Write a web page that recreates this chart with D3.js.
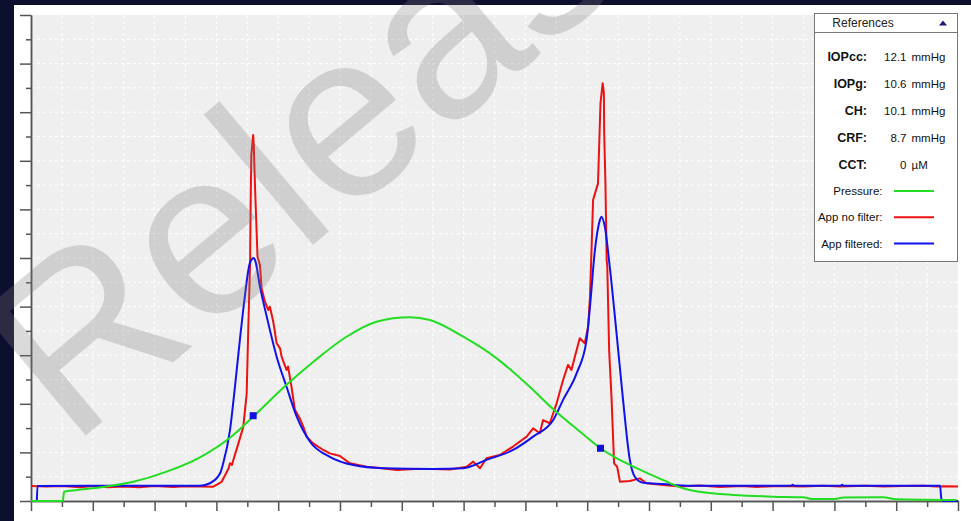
<!DOCTYPE html>
<html>
<head>
<meta charset="utf-8">
<script src="https://cdn.jsdelivr.net/npm/d3@7/dist/d3.min.js"></script>
<style>
  body { margin: 0; background: #0d0f2e; }
  svg { display: block; font-family: "Liberation Sans", Arial, sans-serif; }
</style>
</head>
<body>
<svg id="chart" width="971" height="521"></svg>
<script>
// Кривые прибора (время 0..30, амплитуда 0..20 в клетках сетки)
const pressure = [
  [0, 0], [1.03, 0], [1.07, 0.38], [1.7, 0.48], [2.23, 0.56], [3.31, 0.79], [4.39, 1.21],
  [5.47, 1.8], [6.55, 2.72], [7.19, 3.47], [8.27, 4.78], [9.13, 5.72], [10.21, 6.76],
  [11.18, 7.38], [12.26, 7.56], [12.91, 7.45], [13.99, 6.76], [15.07, 5.87], [16.14, 4.7],
  [16.95, 3.72], [17.76, 2.86], [18.43, 2.17], [18.95, 1.76], [19.6, 1.35], [20.46, 0.86],
  [21.21, 0.48], [21.64, 0.38], [22.72, 0.25], [24.02, 0.18], [24.99, 0.15], [25.3, 0.08],
  [26.0, 0.08], [26.3, 0.14], [27.57, 0.15], [28.0, 0.07], [29.95, 0.04]
];

const appNoFilter = [
  [0, 0.62], [0.5, 0.6], [1.0, 0.62], [1.6, 0.57], [2.0, 0.62], [2.5, 0.57], [3.0, 0.6],
  [3.5, 0.57], [4.0, 0.62], [4.6, 0.58], [5.0, 0.61], [5.5, 0.6], [5.9, 0.59], [6.17, 0.79],
  [6.39, 1.33], [6.44, 1.55], [6.5, 1.48], [6.71, 2.36], [6.87, 3.05], [6.98, 4.42],
  [7.03, 7.04], [7.09, 9.78], [7.11, 12.39], [7.13, 14.24], [7.19, 15.06], [7.21, 14.65],
  [7.25, 12.92], [7.3, 11.15], [7.33, 10.05], [7.41, 9.71], [7.46, 8.77], [7.57, 8.2],
  [7.68, 7.86], [7.73, 8.0], [7.84, 7.38], [7.95, 6.49], [8.06, 6.28], [8.11, 5.94],
  [8.27, 5.39], [8.32, 5.53], [8.43, 4.7], [8.54, 3.75], [8.7, 3.4], [8.81, 3.06],
  [8.92, 2.65], [9.13, 2.37], [9.46, 2.1], [9.67, 1.96], [10.0, 1.85], [10.32, 1.55],
  [10.86, 1.41], [11.29, 1.36], [11.83, 1.28], [12.42, 1.32], [13.02, 1.32], [13.56, 1.3],
  [14.1, 1.41], [14.31, 1.62], [14.53, 1.35], [14.74, 1.76], [15.17, 1.89], [15.6, 2.24],
  [16.04, 2.65], [16.25, 2.99], [16.47, 2.79], [16.57, 3.33], [16.79, 3.2], [17.01, 4.02],
  [17.22, 4.98], [17.38, 5.6], [17.49, 5.39], [17.6, 5.94], [17.76, 6.7], [17.92, 6.49],
  [18.03, 7.17], [18.09, 8.41], [18.14, 10.33], [18.19, 12.39], [18.35, 13.07],
  [18.39, 14.72], [18.43, 16.37], [18.5, 17.19], [18.54, 16.78], [18.55, 15.13],
  [18.59, 13.07], [18.63, 9.92], [18.65, 9.64], [18.71, 6.21], [18.79, 4.16], [18.87, 1.55],
  [18.97, 1.41], [19.06, 0.79], [19.38, 0.82], [19.7, 0.93], [19.92, 0.73], [20.46, 0.66],
  [21.0, 0.6], [21.64, 0.64], [22.3, 0.58], [23.0, 0.62], [23.5, 0.58], [24.2, 0.62],
  [25.0, 0.6], [25.6, 0.63], [26.2, 0.6], [27.0, 0.63], [27.6, 0.6], [28.2, 0.62],
  [28.9, 0.63], [29.3, 0.6], [29.6, 0.61], [30, 0.6]
];

const appFiltered = [
  [0.19, 0], [0.21, 0.62], [2.0, 0.63], [5.47, 0.63], [5.79, 0.73], [6.12, 1.14],
  [6.22, 1.55], [6.44, 2.92], [6.6, 4.7], [6.76, 6.63], [6.92, 8.41], [7.08, 9.78],
  [7.21, 10.0], [7.25, 9.92], [7.41, 8.82], [7.63, 7.58], [7.95, 5.94], [8.27, 4.7],
  [8.6, 3.47], [9.03, 2.44], [9.67, 1.82], [10.43, 1.48], [11.4, 1.35], [13.02, 1.32],
  [13.99, 1.35], [14.74, 1.69], [15.6, 2.1], [16.25, 2.65], [16.9, 3.33], [17.22, 4.16],
  [17.66, 5.26], [17.98, 6.63], [18.09, 8.0], [18.25, 10.33], [18.41, 11.56], [18.46, 11.7],
  [18.57, 11.29], [18.73, 9.64], [18.95, 6.9], [19.16, 4.16], [19.38, 1.69], [19.54, 1.0],
  [19.81, 0.75], [20.46, 0.7], [21.32, 0.63], [24.6, 0.63], [24.65, 0.67], [24.7, 0.63],
  [26.2, 0.63], [26.25, 0.67], [26.3, 0.63], [29.42, 0.63], [29.46, 0.1], [29.5, 0], [30, 0]
];

// Точки апланации на кривой давления
const markers = [[7.19, 3.51], [18.43, 2.17]];

// Таблица справа
const refLabels = ["IOPcc:", "IOPg:", "CH:", "CRF:", "CCT:"];
const refValues = ["12.1", "10.6", "10.1", "8.7", "0"];
const refUnits  = ["mmHg", "mmHg", "mmHg", "mmHg", "µM"];
const seriesNames  = ["Pressure:", "App no filter:", "App filtered:"];
const seriesColors = ["#22dd22", "#ee1111", "#1111ee"];

const svg = d3.select("#chart");

// Белая панель и серое поле графика
svg.append("rect").attr("x", 14).attr("y", 5).attr("width", 957).attr("height", 516).attr("fill", "#ffffff");

const xScale = d3.scaleLinear().domain([0, 30]).range([31, 958]);
const yScale = d3.scaleLinear().domain([0, 20]).range([501, 15]);

svg.append("rect")
    .attr("x", xScale(0)).attr("y", yScale(20))
    .attr("width", xScale(30) - xScale(0)).attr("height", yScale(0) - yScale(20))
    .attr("fill", "#efefef");

// Пунктирная сетка
const grid = svg.append("g").attr("stroke", "#ffffff").attr("stroke-width", 1).attr("stroke-dasharray", "3,3");
grid.selectAll(".gx").data(d3.range(1, 30)).enter().append("line")
    .attr("x1", d => xScale(d)).attr("x2", d => xScale(d))
    .attr("y1", yScale(20)).attr("y2", yScale(0));
grid.selectAll(".gy").data(d3.range(1, 20)).enter().append("line")
    .attr("x1", xScale(0)).attr("x2", xScale(30))
    .attr("y1", d => yScale(d)).attr("y2", d => yScale(d));

// Оси: длинные и короткие засечки
function styleAxis(g) {
    g.selectAll("text").remove();
    g.selectAll("line").attr("stroke", "#555").attr("stroke-width", 1.5);
    g.select(".domain").attr("stroke", "#555").attr("stroke-width", 1.5);
}
svg.append("g").attr("transform", "translate(0," + yScale(0) + ")")
    .call(d3.axisBottom(xScale).tickValues(d3.range(0, 31, 2)).tickSize(10).tickSizeOuter(0).tickFormat(""))
    .call(styleAxis);
svg.append("g").attr("transform", "translate(0," + yScale(0) + ")")
    .call(d3.axisBottom(xScale).tickValues(d3.range(1, 30, 2)).tickSize(6).tickSizeOuter(0).tickFormat(""))
    .call(styleAxis);
svg.append("g").attr("transform", "translate(" + xScale(0) + ",0)")
    .call(d3.axisLeft(yScale).tickValues(d3.range(0, 21, 2)).tickSize(11).tickSizeOuter(0).tickFormat(""))
    .call(styleAxis);
svg.append("g").attr("transform", "translate(" + xScale(0) + ",0)")
    .call(d3.axisLeft(yScale).tickValues(d3.range(1, 20, 2)).tickSize(5).tickSizeOuter(0).tickFormat(""))
    .call(styleAxis);

// Линии
const line = d3.line().x(d => xScale(d[0])).y(d => yScale(d[1]));
const smooth = d3.line().x(d => xScale(d[0])).y(d => yScale(d[1])).curve(d3.curveMonotoneX);

svg.append("path").datum(appNoFilter).attr("d", line)
    .attr("fill", "none").attr("stroke", seriesColors[1]).attr("stroke-width", 2).attr("stroke-linejoin", "round");
svg.append("path").datum(appFiltered).attr("d", smooth)
    .attr("fill", "none").attr("stroke", seriesColors[2]).attr("stroke-width", 2).attr("stroke-linejoin", "round");
svg.append("path").datum(pressure).attr("d", smooth)
    .attr("fill", "none").attr("stroke", seriesColors[0]).attr("stroke-width", 2).attr("stroke-linejoin", "round");

svg.selectAll(".marker").data(markers).enter().append("rect")
    .attr("x", d => xScale(d[0]) - 3.5).attr("y", d => yScale(d[1]) - 3.5)
    .attr("width", 7).attr("height", 7).attr("fill", "#1010e0");

// Легенда "References"
const lg = svg.append("g");
lg.append("rect").attr("x", 814.5).attr("y", 13.5).attr("width", 143).attr("height", 248)
    .attr("fill", "#ffffff").attr("stroke", "#777");
lg.append("rect").attr("x", 814.5).attr("y", 13.5).attr("width", 143).attr("height", 19)
    .attr("fill", "#ffffff").attr("stroke", "#777");
lg.append("text").attr("x", 863).attr("y", 27).attr("text-anchor", "middle")
    .attr("font-size", 12).attr("fill", "#222").text("References");
lg.append("path").attr("d", "M939,25.5 L947,25.5 L943,20.5 Z").attr("fill", "#1a1a7a");

refLabels.forEach(function (label, i) {
    const cy = 57 + i * 27;
    lg.append("text").attr("x", 867).attr("y", cy + 4).attr("text-anchor", "end")
        .attr("font-size", 12.5).attr("font-weight", "bold").attr("fill", "#111").text(label);
    lg.append("text").attr("x", 906.5).attr("y", cy + 4).attr("text-anchor", "end")
        .attr("font-size", 11.5).attr("fill", "#111").text(refValues[i]);
    lg.append("text").attr("x", 911.5).attr("y", cy + 4)
        .attr("font-size", 11.5).attr("fill", "#111").text(refUnits[i]);
});

seriesNames.forEach(function (name, i) {
    const cy = 191 + i * 26.3;
    lg.append("text").attr("x", 882.5).attr("y", cy + 4).attr("text-anchor", "end")
        .attr("font-size", 11.5).attr("fill", "#111").text(name);
    lg.append("line").attr("x1", 894).attr("x2", 934).attr("y1", cy).attr("y2", cy)
        .attr("stroke", seriesColors[i]).attr("stroke-width", 2);
});

// Водяной знак
svg.append("text")
    .attr("transform", "translate(71,448) rotate(-40)")
    .attr("font-size", 235)
    .attr("fill", "#7b7b7b")
    .attr("opacity", 0.27)
    .style("pointer-events", "none")
    .text("Release");
</script>
</body>
</html>
